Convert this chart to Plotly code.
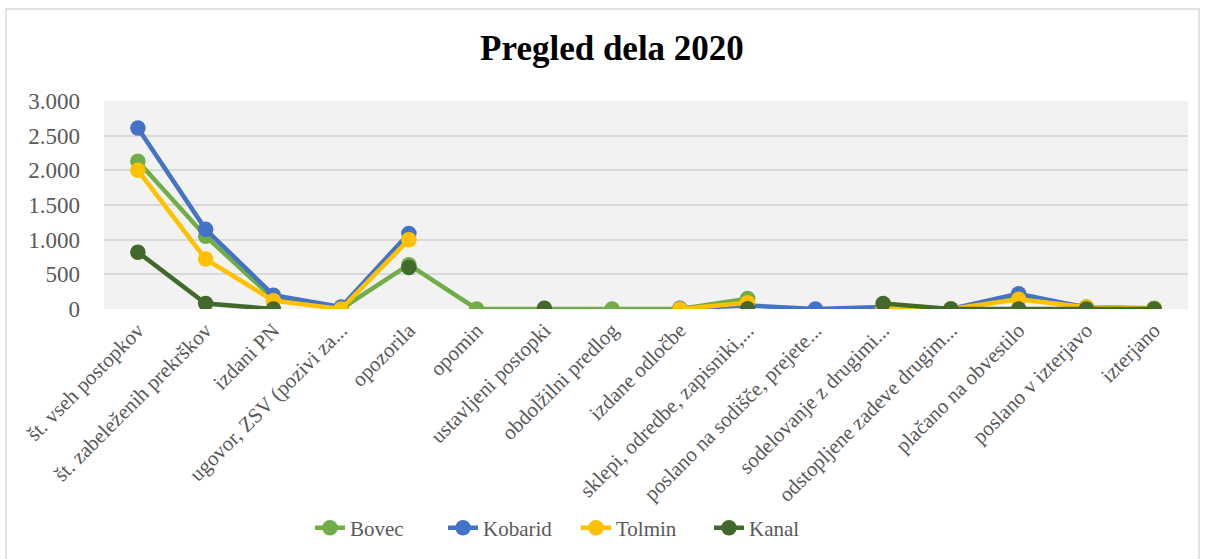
import plotly.graph_objects as go

categories = [
    "št. vseh postopkov",
    "št. zabeleženih prekrškov",
    "izdani PN",
    "ugovor, ZSV (pozivi za...",
    "opozorila",
    "opomin",
    "ustavljeni postopki",
    "obdolžilni predlog",
    "izdane odločbe",
    "sklepi, odredbe, zapisniki,...",
    "poslano na sodišče, prejete...",
    "sodelovanje z drugimi...",
    "odstopljene zadeve drugim...",
    "plačano na obvestilo",
    "poslano v izterjavo",
    "izterjano",
]

bovec = [2130, 1050, 150, 0, 640, 0, 0, 0, 0, 150, None, 10, 0, 190, 30, 10]
kobarid = [2610, 1150, 200, 30, 1090, None, None, None, 10, 50, 0, 30, 0, 220, 20, 5]
tolmin = [2000, 720, 120, 0, 1000, None, None, None, 0, 90, None, 15, 0, 140, 25, 5]
kanal = [820, 80, 0, None, 600, None, 10, None, None, 5, None, 80, 0, 0, 0, 0]

series = [
    ("Bovec", bovec, "#70AD47"),
    ("Kobarid", kobarid, "#4472C4"),
    ("Tolmin", tolmin, "#FFC000"),
    ("Kanal", kanal, "#43682B"),
]

y_ticks = [0, 500, 1000, 1500, 2000, 2500, 3000]

FONT = "Liberation Serif"
GRAY = "#595959"

fig = go.Figure()
for name, vals, color in series:
    fig.add_trace(go.Scatter(
        x=categories, y=vals, name=name, mode="lines+markers",
        line=dict(color=color, width=4.5),
        marker=dict(color=color, size=15.5),
        connectgaps=False,
    ))

W, H = 1206, 559
L, R, T, B = 104, 18, 101, 250
pw = W - L - R
ph = H - T - B

def px_x(x):
    return (x - L) / pw

def px_y(y):
    return (H - B - y) / ph

fig.update_layout(
    width=W, height=H,
    margin=dict(l=L, r=R, t=T, b=B, autoexpand=False),
    paper_bgcolor="white",
    plot_bgcolor="#F2F2F2",
    separators=",.",
    font=dict(family=FONT, color=GRAY, size=20),
    title=dict(
        text="<b>Pregled dela 2020</b>",
        font=dict(family=FONT, size=35, color="black"),
        x=612 / W, xanchor="center", xref="container",
        y=1 - 48 / H, yanchor="middle", yref="container",
    ),
    xaxis=dict(
        type="category",
        range=[-0.5, len(categories) - 0.5],
        tickangle=-45,
        tickfont=dict(family=FONT, size=21, color=GRAY),
        showgrid=False, zeroline=False, showline=False,
        ticks="",
        ticklabelstandoff=4,
    ),
    yaxis=dict(
        range=[0, 3000],
        tickvals=y_ticks,
        tickformat=",",
        tickfont=dict(family=FONT, size=23, color=GRAY),
        gridcolor="#D9D9D9", gridwidth=1.5,
        zeroline=False, showline=False, ticks="",
        ticklabelstandoff=23,
    ),
    legend=dict(
        orientation="h",
        x=px_x(310), xanchor="left",
        y=px_y(528), yanchor="middle",
        font=dict(family=FONT, size=21, color=GRAY),
        bgcolor="rgba(0,0,0,0)",
        entrywidth=88, entrywidthmode="pixels",
    ),
    showlegend=True,
    shapes=[dict(
        type="rect", xref="paper", yref="paper",
        x0=px_x(6), x1=px_x(1199), y0=px_y(575), y1=px_y(9),
        line=dict(color="#D9D9D9", width=1.5), fillcolor="rgba(0,0,0,0)",
        layer="below",
    )],
)

fig.write_html(
    "out.html",
    config={"displayModeBar": False},
    post_script="document.body.style.margin='0';document.body.style.padding='0';",
)
